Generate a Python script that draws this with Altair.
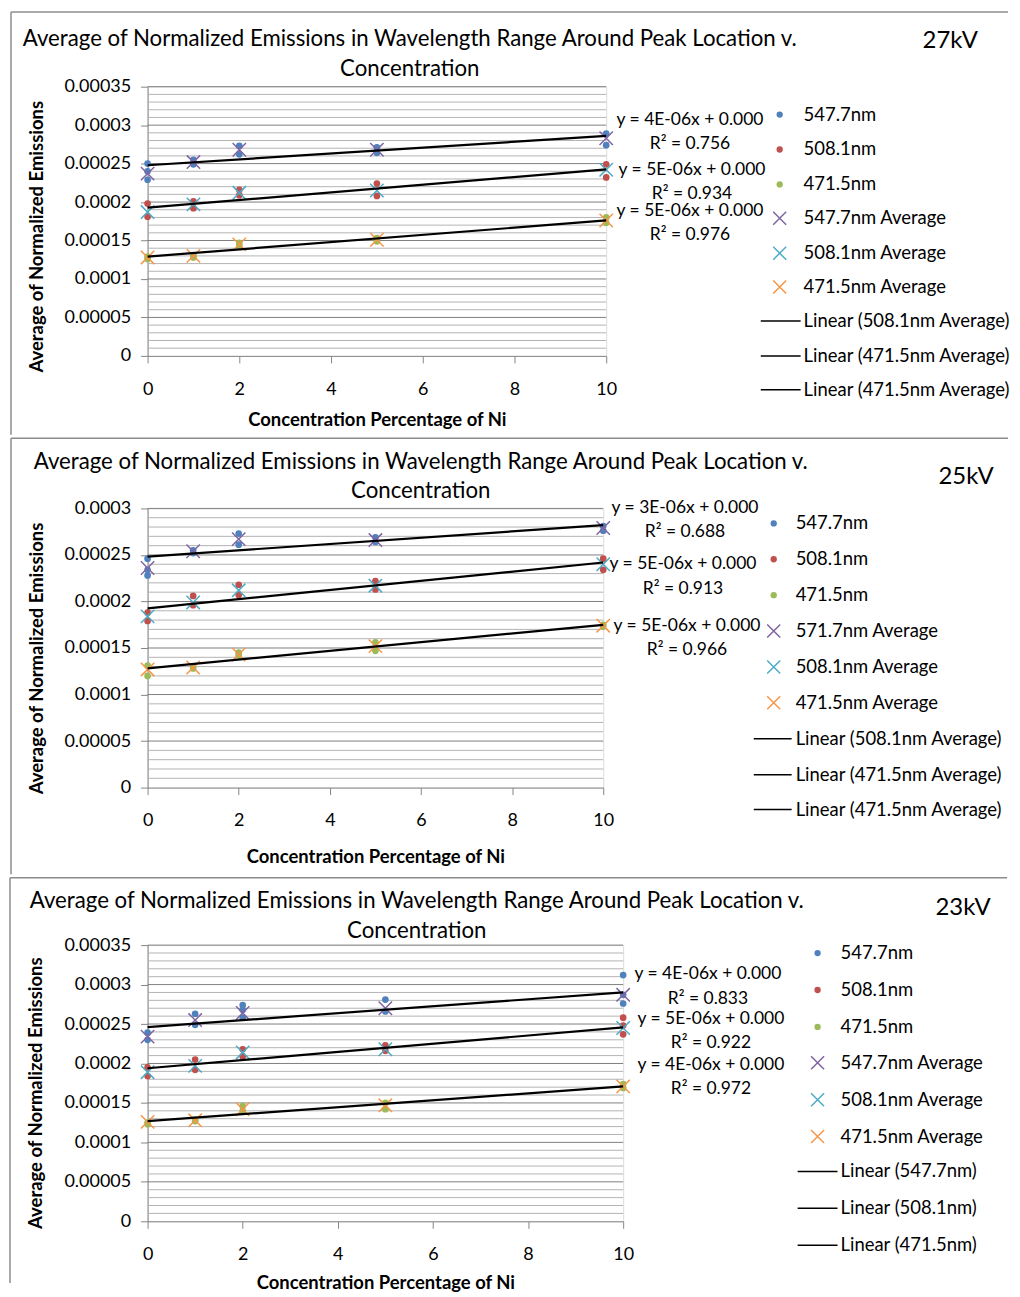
import altair as alt
import pandas as pd

# ---------------- data ----------------
CONC = [0, 1, 2, 5, 10]
SERIES = ["547.7nm", "508.1nm", "471.5nm"]

# 27 kV
KV27_RAW = {
    "547.7nm": [[25.0e-5, 24.0e-5, 22.9e-5], [25.5e-5, 24.9e-5], [27.3e-5, 26.2e-5], [27.1e-5, 26.4e-5], [28.9e-5, 27.4e-5]],
    "508.1nm": [[19.8e-5, 18.1e-5], [20.1e-5, 19.2e-5], [21.6e-5, 20.9e-5], [22.4e-5, 20.8e-5], [24.9e-5, 23.2e-5]],
    "471.5nm": [[12.9e-5, 12.6e-5], [13.1e-5, 12.8e-5], [14.7e-5, 14.3e-5], [15.3e-5, 14.9e-5], [18.0e-5, 17.3e-5]],
}
KV27_AVG = {
    "547.7nm": [23.7e-5, 25.2e-5, 26.8e-5, 26.8e-5, 28.3e-5],
    "508.1nm": [18.7e-5, 19.7e-5, 21.2e-5, 21.5e-5, 24.2e-5],
    "471.5nm": [12.8e-5, 13.0e-5, 14.5e-5, 15.1e-5, 17.6e-5],
}
KV27_EQ = ["y = 4E-06x + 0.000", "R² = 0.756", "y = 5E-06x + 0.000", "R² = 0.934", "y = 5E-06x + 0.000", "R² = 0.976"]
KV27_LEGEND = ["547.7nm", "508.1nm", "471.5nm", "547.7nm Average", "508.1nm Average", "471.5nm Average",
               "Linear (508.1nm Average)", "Linear (471.5nm Average)", "Linear (471.5nm Average)"]

# 25 kV
KV25_RAW = {
    "547.7nm": [[24.6e-5, 23.4e-5, 22.8e-5], [25.5e-5, 25.2e-5], [27.3e-5, 26.1e-5], [26.9e-5, 26.4e-5], [28.1e-5, 27.6e-5]],
    "508.1nm": [[18.8e-5, 17.9e-5], [20.6e-5, 19.6e-5], [21.8e-5, 20.7e-5], [22.2e-5, 21.3e-5], [24.6e-5, 23.4e-5]],
    "471.5nm": [[13.1e-5, 12.0e-5], [13.0e-5, 12.8e-5], [14.5e-5, 14.2e-5], [15.6e-5, 14.7e-5], [17.5e-5, 17.3e-5]],
}
KV25_AVG = {
    "547.7nm": [23.6e-5, 25.4e-5, 26.7e-5, 26.6e-5, 27.9e-5],
    "508.1nm": [18.4e-5, 19.9e-5, 21.2e-5, 21.7e-5, 24.0e-5],
    "471.5nm": [12.7e-5, 12.9e-5, 14.3e-5, 15.2e-5, 17.4e-5],
}
KV25_EQ = ["y = 3E-06x + 0.000", "R² = 0.688", "y = 5E-06x + 0.000", "R² = 0.913", "y = 5E-06x + 0.000", "R² = 0.966"]
KV25_LEGEND = ["547.7nm", "508.1nm", "471.5nm", "571.7nm Average", "508.1nm Average", "471.5nm Average",
               "Linear (508.1nm Average)", "Linear (471.5nm Average)", "Linear (471.5nm Average)"]

# 23 kV
KV23_RAW = {
    "547.7nm": [[23.9e-5, 23.0e-5], [26.3e-5, 24.9e-5], [27.4e-5, 26.8e-5, 25.8e-5], [28.1e-5, 26.6e-5], [31.2e-5, 28.7e-5, 27.6e-5]],
    "508.1nm": [[19.5e-5, 18.4e-5], [20.5e-5, 19.2e-5], [21.8e-5, 20.9e-5], [22.3e-5, 21.6e-5], [25.8e-5, 24.8e-5, 23.7e-5]],
    "471.5nm": [[12.5e-5, 12.3e-5], [12.9e-5, 12.7e-5], [14.6e-5, 14.0e-5], [15.0e-5, 14.2e-5], [17.4e-5, 16.9e-5]],
}
KV23_AVG = {
    "547.7nm": [23.4e-5, 25.5e-5, 26.4e-5, 27.0e-5, 28.7e-5],
    "508.1nm": [18.9e-5, 19.7e-5, 21.4e-5, 21.8e-5, 24.5e-5],
    "471.5nm": [12.6e-5, 12.8e-5, 14.2e-5, 14.7e-5, 17.1e-5],
}
KV23_EQ = ["y = 4E-06x + 0.000", "R² = 0.833", "y = 5E-06x + 0.000", "R² = 0.922", "y = 4E-06x + 0.000", "R² = 0.972"]
KV23_LEGEND = ["547.7nm", "508.1nm", "471.5nm", "547.7nm Average", "508.1nm Average", "471.5nm Average",
               "Linear (547.7nm)", "Linear (508.1nm)", "Linear (471.5nm)"]

TITLE = ["Average of Normalized Emissions in Wavelength Range Around Peak Location v.", "Concentration"]
Y_TITLE = "Average of Normalized Emissions"
X_TITLE = "Concentration Percentage of Ni"
X_TICKS = [0, 2, 4, 6, 8, 10]

# ---------------- styling ----------------
FONT = "Lato"
DOT_COLORS = ["#4F81BD", "#C0504D", "#9BBB59"]
X_COLORS = ["#8064A2", "#4BACC6", "#F79646"]
XPATH = "M-1,-1L1,1M1,-1L-1,1"
AXIS_GRAY = "#868686"
MINOR_GRAY = "#B4B4B4"
MAJOR_GRAY = "#7F7F7F"
FRAME_GRAY = "#8C8C8C"
ONE = pd.DataFrame({"k": [0]})

# layout of each panel in page pixels (reference coordinates)
LAYOUT = {
    "27": dict(ox=147, oy=86, w=460, h=270, ymax=0.00035, ftop=11, fbot=435,
               title_x=410, title_y=(38, 68), kv=(952, 40),
               lg_mx=781, lg_tx=805, lg_line=(762, 802),
               lg_y=[114, 149, 184, 218, 253, 287, 321, 356, 390],
               eq=[(691, 119), (691, 143), (693, 170), (693, 194), (691, 211), (691, 235)],
               ytitle=(36, 236), xtitle_dy=64),
    "25": dict(ox=147, oy=508, w=457, h=280, ymax=0.0003, ftop=437.5, fbot=875,
               title_x=421, title_y=(461, 491), kv=(968, 476),
               lg_mx=775, lg_tx=797, lg_line=(755, 793),
               lg_y=[523, 559, 595, 631, 667, 703, 739, 775, 810],
               eq=[(686, 508), (686, 532), (684, 564), (684, 589), (688, 626), (688, 650)],
               ytitle=(36, 658), xtitle_dy=69),
    "23": dict(ox=148, oy=944, w=477, h=277, ymax=0.00035, ftop=876.5, fbot=1283,
               title_x=418, title_y=(900, 930), kv=(966, 907),
               lg_mx=820, lg_tx=843, lg_line=(800, 840),
               lg_y=[952, 989, 1026, 1062, 1099, 1136, 1171, 1208, 1245],
               eq=[(710, 973), (710, 998), (713, 1018), (713, 1042), (713, 1064), (713, 1088)],
               ytitle=(36, 1092), xtitle_dy=61),
}


def long_raw(raw):
    rows = []
    for s in SERIES:
        for xv, vals in zip(CONC, raw[s]):
            for v in vals:
                rows.append({"x": xv, "y": v, "series": s})
    return pd.DataFrame(rows)


def long_avg(avg):
    rows = []
    for s in SERIES:
        for xv, v in zip(CONC, avg[s]):
            rows.append({"x": xv, "y": v, "series": s})
    return pd.DataFrame(rows)


def text_layer(txt, x, y, size=17, align="left", weight="normal"):
    return alt.Chart(ONE).mark_text(text=txt, font=FONT, fontSize=size, align=align,
                                    baseline="middle", color="black", fontWeight=weight).encode(
        x=alt.value(x), y=alt.value(y))


def panel(raw, avg, eqs, legend, kv_text, L):
    ox, oy, W, H = L["ox"], L["oy"], L["w"], L["h"]
    rx = lambda px: px - ox
    ry = lambda py: py - oy
    ymax = L["ymax"]
    n = int(round(ymax / 1e-5))
    ysc = alt.Scale(domain=[0, ymax], nice=False, zero=True)
    xsc = alt.Scale(domain=[0, 10], nice=False)
    major_vals = [round(i * 5e-5, 6) for i in range(0, n // 5 + 1)]
    minor = pd.DataFrame({"v": [round(i * 1e-5, 6) for i in range(1, n + 1) if i % 5]})
    major = pd.DataFrame({"v": [v for v in major_vals if v > 0]})

    yaxis = alt.Axis(values=major_vals, format="~f", grid=False, tickSize=7, tickColor=AXIS_GRAY,
                     domainColor=AXIS_GRAY, labelFont=FONT, labelFontSize=18, labelColor="black",
                     labelPadding=10, labelFlush=False, labelOverlap=False,
                     title=Y_TITLE, titleFont=FONT, titleFontSize=18.5,
                     titleFontWeight="bold", titleColor="black", titleAngle=270,
                     titleX=rx(L["ytitle"][0]), titleY=ry(L["ytitle"][1]),
                     titleAlign="center", titleBaseline="middle")
    xaxis = alt.Axis(values=X_TICKS, grid=False, tickSize=7, tickColor=AXIS_GRAY, domainColor=AXIS_GRAY,
                     labelFont=FONT, labelFontSize=18, labelColor="black", labelPadding=17.5,
                     labelFlush=False, labelOverlap=False,
                     title=X_TITLE, titleFont=FONT, titleFontSize=18.5, titleFontWeight="bold",
                     titleColor="black", titleY=L["xtitle_dy"], titleBaseline="middle")
    X = lambda f: alt.X(f"{f}:Q", scale=xsc, axis=xaxis)
    Y = lambda f: alt.Y(f"{f}:Q", scale=ysc, axis=yaxis)

    layers = []
    fl = rx(10)
    # frame lines
    layers.append(alt.Chart(ONE).mark_rule(color=FRAME_GRAY, strokeWidth=1.5).encode(
        x=alt.value(fl), x2=alt.value(rx(1010)), y=alt.value(ry(L["ftop"]))))
    layers.append(alt.Chart(ONE).mark_rule(color=FRAME_GRAY, strokeWidth=1.5).encode(
        x=alt.value(fl), y=alt.value(ry(L["ftop"])), y2=alt.value(ry(L["fbot"]))))

    rdf = long_raw(raw)
    adf = long_avg(avg)
    # grid
    layers.append(alt.Chart(minor).mark_rule(color=MINOR_GRAY, strokeWidth=1).encode(y=Y("v")))
    layers.append(alt.Chart(major).mark_rule(color=MAJOR_GRAY, strokeWidth=1).encode(y=Y("v")))

    for i, s in enumerate(SERIES):
        layers.append(alt.Chart(rdf[rdf.series == s]).mark_circle(size=45, opacity=1, color=DOT_COLORS[i]).encode(
            x=X("x"), y=Y("y")))
    for i, s in enumerate(SERIES):
        layers.append(alt.Chart(adf[adf.series == s]).mark_point(
            shape=XPATH, filled=False, size=180, strokeWidth=1.5, opacity=1, color=X_COLORS[i]).encode(
            x=X("x"), y=Y("y")))
    layers.append(alt.Chart(adf).transform_regression("x", "y", groupby=["series"], extent=[0, 10]).mark_line(
        color="black", strokeWidth=2.2).encode(x=X("x"), y=Y("y"), detail="series:N"))

    # equations
    for (px, py), t in zip(L["eq"], eqs):
        layers.append(text_layer(t, rx(px), ry(py), size=17.5, align="center"))
    # title and kV
    layers.append(text_layer(TITLE[0], rx(L["title_x"]), ry(L["title_y"][0]), size=22.3, align="center"))
    layers.append(text_layer(TITLE[1], rx(L["title_x"]), ry(L["title_y"][1]), size=22.3, align="center"))
    layers.append(text_layer(kv_text, rx(L["kv"][0]), ry(L["kv"][1]), size=24, align="center"))

    # legend
    for k, (lab, py) in enumerate(zip(legend, L["lg_y"])):
        yy = ry(py)
        if k < 3:
            layers.append(alt.Chart(ONE).mark_circle(size=40, opacity=1, color=DOT_COLORS[k]).encode(
                x=alt.value(rx(L["lg_mx"])), y=alt.value(yy)))
        elif k < 6:
            layers.append(alt.Chart(ONE).mark_point(shape=XPATH, filled=False, size=170, strokeWidth=1.5,
                                                    opacity=1, color=X_COLORS[k - 3]).encode(
                x=alt.value(rx(L["lg_mx"])), y=alt.value(yy)))
        else:
            layers.append(alt.Chart(ONE).mark_rule(color="black", strokeWidth=1.5).encode(
                x=alt.value(rx(L["lg_line"][0])), x2=alt.value(rx(L["lg_line"][1])), y=alt.value(yy)))
        layers.append(text_layer(lab, rx(L["lg_tx"]), yy, size=18.5, align="left"))

    return alt.layer(*layers).properties(width=W, height=H)


p27 = panel(KV27_RAW, KV27_AVG, KV27_EQ, KV27_LEGEND, "27kV", LAYOUT["27"])
p25 = panel(KV25_RAW, KV25_AVG, KV25_EQ, KV25_LEGEND, "25kV", LAYOUT["25"])
p23 = panel(KV23_RAW, KV23_AVG, KV23_EQ, KV23_LEGEND, "23kV", LAYOUT["23"])

chart = alt.vconcat(p27, p25, p23, spacing=0).properties(
    padding={"left": 0, "top": 0, "right": 0, "bottom": 0}
).configure_view(stroke=None).configure(background="white")

chart.save("out.html", embed_options={"renderer": "svg", "actions": False})
